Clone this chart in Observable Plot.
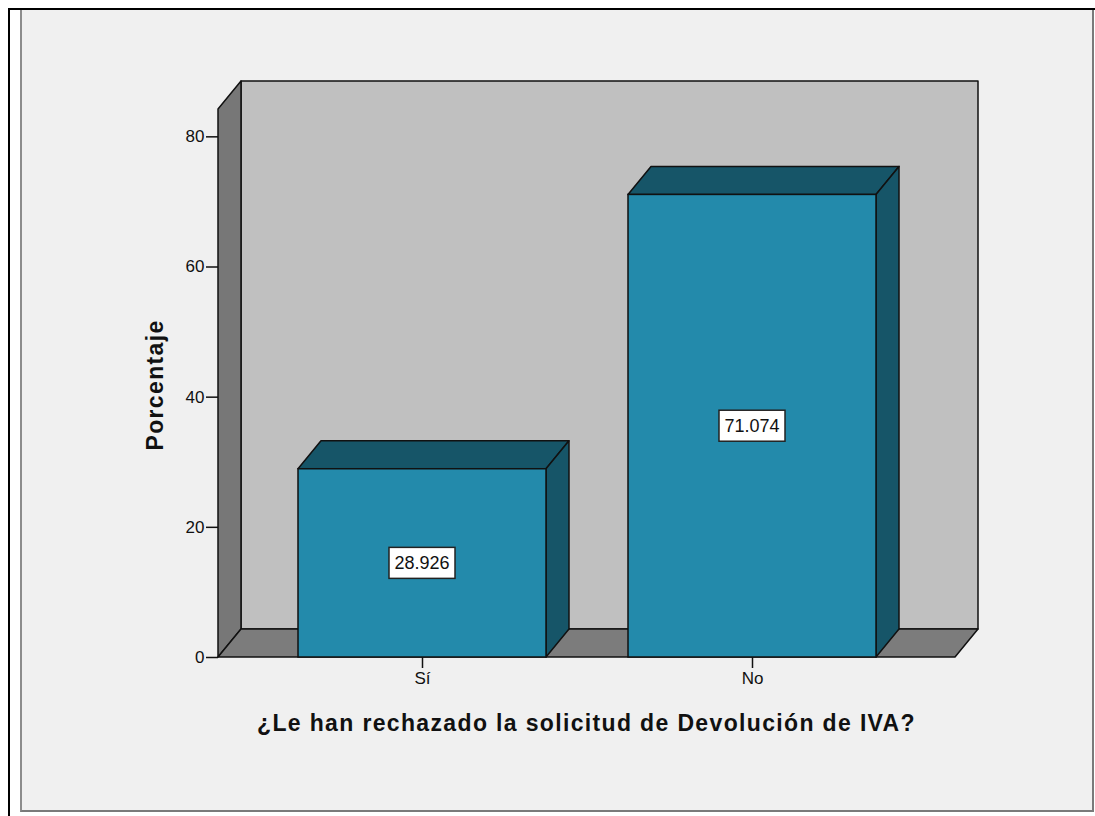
<!DOCTYPE html>
<html>
<head>
<meta charset="utf-8">
<script src="https://cdn.jsdelivr.net/npm/d3@7"></script>
<script src="https://cdn.jsdelivr.net/npm/@observablehq/plot@0.6"></script>
<style>
  html, body { margin: 0; padding: 0; background: #ffffff; overflow: hidden; }
  #wrap { position: relative; width: 1095px; height: 816px; }
  #blackTop { position: absolute; left: 8px; top: 8px; width: 1087px; height: 2px; background: #000; }
  #blackLeft { position: absolute; left: 8px; top: 8px; width: 2px; height: 808px; background: #000; }
  #panel { position: absolute; left: 20px; top: 10px; width: 1070px; height: 800px;
           background: #f0f0f0; border-left: 2px solid #8c8c8c; border-right: 2px solid #7a7a7a; border-bottom: 2px solid #7a7a7a; }
  #chart { position: absolute; left: 0; top: 0; }
</style>
</head>
<body>
<div id="wrap">
  <div id="blackTop"></div>
  <div id="blackLeft"></div>
  <div id="panel"></div>
  <div id="chart"></div>
</div>
<script>
// ---- data ----
const categories = ["Sí", "No"];
const percentages = [28.926, 71.074];
const yTicks = [0, 20, 40, 60, 80];
const yMax = 84.2;
const xTitle = "¿Le han rechazado la solicitud de Devolución de IVA?";
const yTitle = "Porcentaje";

const data = categories.map((c, i) => ({cat: c, value: percentages[i]}));

// ---- style ----
const FONT = "'Liberation Sans', Arial, sans-serif";
const DX = 23, DY = -28;             // 3D depth offset
const C = {
  front: "#238aab", dark: "#165568", back: "#c0c0c0",
  wall: "#777777", floor: "#7c7c7c", edge: "#111111"
};

function poly(g, pts, fill) {
  g.append("polygon")
    .attr("points", pts.map(p => p.join(",")).join(" "))
    .attr("fill", fill)
    .attr("stroke", C.edge)
    .attr("stroke-width", 1.5)
    .attr("stroke-linejoin", "round");
}

function room(index, scales, values, dims) {
  const g = d3.create("svg:g");
  const x0 = dims.marginLeft, x1 = dims.width - dims.marginRight;
  const yb = scales.y(0), yt = scales.y(yMax);
  poly(g, [[x0 + DX, yt + DY], [x1 + DX, yt + DY], [x1 + DX, yb + DY], [x0 + DX, yb + DY]], C.back);
  poly(g, [[x0, yb], [x0, yt], [x0 + DX, yt + DY], [x0 + DX, yb + DY]], C.wall);
  poly(g, [[x0, yb], [x1, yb], [x1 + DX, yb + DY], [x0 + DX, yb + DY]], C.floor);
  return g.node();
}

function barDepth(index, scales) {
  const g = d3.create("svg:g");
  const bw = scales.x.bandwidth();
  const yb = scales.y(0);
  for (const d of data) {
    const bx0 = scales.x(d.cat), bx1 = bx0 + bw, ty = scales.y(d.value);
    poly(g, [[bx0, ty], [bx1, ty], [bx1 + DX, ty + DY], [bx0 + DX, ty + DY]], C.dark);
    poly(g, [[bx1, ty], [bx1 + DX, ty + DY], [bx1 + DX, yb + DY], [bx1, yb]], C.dark);
  }
  return g.node();
}

function valueLabels(index, scales) {
  const g = d3.create("svg:g");
  const bw = scales.x.bandwidth();
  for (const d of data) {
    const cx = scales.x(d.cat) + bw / 2, cy = scales.y(d.value / 2);
    g.append("rect")
      .attr("x", cx - 33).attr("y", cy - 15.5)
      .attr("width", 66).attr("height", 31)
      .attr("fill", "#ffffff").attr("stroke", "#222").attr("stroke-width", 1.5);
    g.append("text")
      .attr("x", cx).attr("y", cy)
      .attr("text-anchor", "middle").attr("dy", "0.36em")
      .attr("font-family", FONT).attr("font-size", 18).attr("fill", "#111")
      .text(d3.format(".3f")(d.value));
  }
  return g.node();
}

function titles(index, scales, values, dims) {
  const g = d3.create("svg:g")
    .attr("font-family", FONT).attr("font-size", 23).attr("font-weight", "bold")
    .attr("fill", "#111").attr("letter-spacing", "1.35px").attr("text-anchor", "middle");
  const x0 = dims.marginLeft, x1 = dims.width - dims.marginRight;
  const yb = scales.y(0), yt = scales.y(yMax);
  g.append("text")
    .attr("transform", `translate(${x0 - 63},${(yt + yb) / 2 + 2}) rotate(-90)`)
    .attr("dy", "0.36em")
    .text(yTitle);
  g.append("text")
    .attr("x", (x0 + x1) / 2).attr("y", yb + 66)
    .attr("dy", "0.36em")
    .text(xTitle);
  return g.node();
}

const chart = Plot.plot({
  width: 1095,
  height: 816,
  marginLeft: 218,
  marginRight: 140,
  marginTop: 109,
  marginBottom: 159,
  style: {background: "transparent", fontFamily: FONT, color: "#111", overflow: "visible"},
  x: {type: "band", domain: categories, paddingInner: 0.25, paddingOuter: 0.24},
  y: {domain: [0, yMax]},
  marks: [
    room,
    barDepth,
    Plot.barY(data, {x: "cat", y: "value", fill: C.front, stroke: C.edge, strokeWidth: 1.5}),
    valueLabels,
    Plot.axisY({ticks: yTicks, tickSize: 12, tickPadding: 2, fontSize: 17, label: null, strokeWidth: 1.5}),
    Plot.axisX({tickSize: 11, tickPadding: 3, fontSize: 17, label: null, strokeWidth: 1.5}),
    titles
  ]
});
document.getElementById("chart").appendChild(chart);
</script>
</body>
</html>
